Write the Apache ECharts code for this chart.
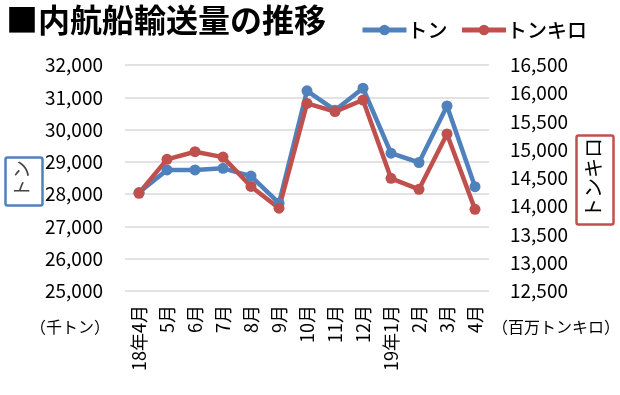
<!DOCTYPE html>
<html><head><meta charset="utf-8">
<script src="https://cdn.jsdelivr.net/npm/echarts@6/dist/echarts.min.js"></script>
<style>html,body{margin:0;padding:0;background:#fff}#c{width:620px;height:395px}</style>
</head><body><div id="c"></div>
<script>
const categories = ['18年4月','5月','6月','7月','8月','9月','10月','11月','12月','19年1月','2月','3月','4月'];
const tonValues = [28050, 28750, 28750, 28800, 28560, 27720, 31200, 30600, 31280, 29270, 28980, 30730, 28230];
const tonkiroValues = [14230, 14830, 14965, 14870, 14350, 13965, 15820, 15675, 15880, 14495, 14300, 15280, 13945];
const seriesNames = ['トン', 'トンキロ'];
const titleText = '■内航船輸送量の推移';
const leftUnit = '（千トン）';
const rightUnit = '（百万トンキロ）';

const FONT = '"Noto Sans CJK JP", "Noto Sans", sans-serif';
const BLUE = '#4F81BD', RED = '#C0504D';
const fmt = v => v.toLocaleString('en-US');

const chart = echarts.init(document.getElementById('c'), null, {renderer: 'canvas'});
chart.setOption({
  animation: false,
  textStyle: {fontFamily: FONT},
  title: {text: titleText, left: 1, top: -1,
    textStyle: {fontFamily: FONT, fontSize: 32, fontWeight: 'bold', color: '#000'}},
  legend: {
    left: 355, top: 15, itemWidth: 44, itemHeight: 13, itemGap: 12,
    data: seriesNames,
    lineStyle: {width: 5},
    textStyle: {fontFamily: FONT, fontSize: 20, fontWeight: 500, color: '#000', padding: [0, 0, 0, -4]}
  },
  grid: {left: 125, right: 131, top: 65, bottom: 104, containLabel: false},
  xAxis: {
    type: 'category', data: categories, boundaryGap: true,
    axisLine: {show: false}, axisTick: {show: false},
    axisLabel: {rotate: 90, margin: 14, fontSize: 18, color: '#000', fontFamily: FONT, interval: 0}
  },
  yAxis: [
    {type: 'value', min: 25000, max: 32000, interval: 1000,
      axisLine: {show: false}, axisTick: {show: false},
      axisLabel: {formatter: fmt, fontSize: 19, color: '#000', margin: 22, fontFamily: FONT},
      splitLine: {lineStyle: {color: '#D9D9D9', width: 1.5}}},
    {type: 'value', min: 12500, max: 16500, interval: 500,
      axisLine: {show: false}, axisTick: {show: false},
      axisLabel: {formatter: fmt, fontSize: 19, color: '#000', margin: 21, fontFamily: FONT},
      splitLine: {show: false}}
  ],
  series: [
    {name: seriesNames[0], type: 'line', yAxisIndex: 0, data: tonValues,
      symbol: 'circle', symbolSize: 11, color: BLUE,
      lineStyle: {width: 4.5, color: BLUE}, itemStyle: {color: BLUE}},
    {name: seriesNames[1], type: 'line', yAxisIndex: 1, data: tonkiroValues,
      symbol: 'circle', symbolSize: 11, color: RED,
      lineStyle: {width: 4.5, color: RED}, itemStyle: {color: RED}}
  ],
  graphic: [
    {type: 'rect', left: 3, top: 155, shape: {width: 37, height: 48, r: 2},
      style: {fill: 'none', stroke: BLUE, lineWidth: 2.5}},
    {type: 'text', x: 22, y: 179, rotation: Math.PI / 2,
      style: {text: seriesNames[0], font: '19px ' + FONT, fill: '#444', align: 'center', verticalAlign: 'middle'}},
    {type: 'rect', left: 574, top: 133, shape: {width: 37, height: 89, r: 2},
      style: {fill: 'none', stroke: RED, lineWidth: 2.5}},
    {type: 'text', x: 593, y: 178, rotation: Math.PI / 2,
      style: {text: seriesNames[1], font: '20px ' + FONT, fill: '#000', align: 'center', verticalAlign: 'middle'}},
    {type: 'text', x: 70, y: 327,
      style: {text: leftUnit, font: '16px ' + FONT, fill: '#000', align: 'center', verticalAlign: 'middle'}},
    {type: 'text', x: 556, y: 327,
      style: {text: rightUnit, font: '16px ' + FONT, fill: '#000', align: 'center', verticalAlign: 'middle'}}
  ]
});
</script></body></html>
